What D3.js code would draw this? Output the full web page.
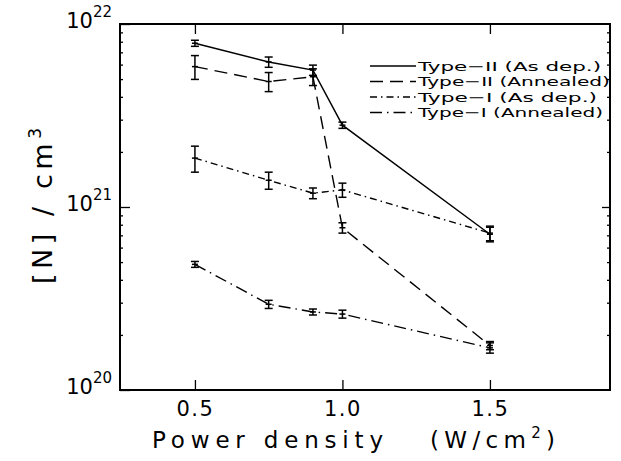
<!DOCTYPE html>
<html>
<head>
<meta charset="utf-8">
<script src="https://cdn.jsdelivr.net/npm/d3@7"></script>
<style>
  body { margin: 0; background: #fff; }
  svg { display: block; font-family: "DejaVu Sans", sans-serif; }
</style>
</head>
<body>
<svg id="chart"></svg>
<script>
// Chart data
const powers = [0.5, 0.75, 0.9, 1.0, 1.5];
const xTicks = [0.5, 1.0, 1.5];
const yTicks = [1e20, 1e21, 1e22];

const seriesNames = [
  "Type\u2212II (As dep.)",
  "Type\u2212II (Annealed)",
  "Type\u2212I (As dep.)",
  "Type\u2212I (Annealed)",
];
const type2AsDep = [7.85e21, 6.2e21, 5.6e21, 2.8e21, 7.1e20];
const type2AsDepErr = [0.3e21, 0.4e21, 0.36e21, 0.11e21, 0.65e20];
const type2Annealed = [5.85e21, 4.85e21, 5.15e21, 7.7e20, 1.75e20];
const type2AnnealedErr = [0.87e21, 0.58e21, 0.54e21, 0.5e20, 0.09e20];
const type1AsDep = [1.85e21, 1.4e21, 1.19e21, 1.24e21, 7.2e20];
const type1AsDepErr = [0.3e21, 0.15e21, 0.08e21, 0.11e21, 0.66e20];
const type1Annealed = [4.86e20, 2.94e20, 2.67e20, 2.6e20, 1.7e20];
const type1AnnealedErr = [0.18e20, 0.15e20, 0.1e20, 0.13e20, 0.11e20];

const dashes = ["none", "13,7", "7,4,1.5,4", "12,5,1.5,5"];
const legendWidths = [183, 192, 179, 185];

const series = [
  { name: seriesNames[0], values: type2AsDep, errs: type2AsDepErr, dash: dashes[0] },
  { name: seriesNames[1], values: type2Annealed, errs: type2AnnealedErr, dash: dashes[1] },
  { name: seriesNames[2], values: type1AsDep, errs: type1AsDepErr, dash: dashes[2] },
  { name: seriesNames[3], values: type1Annealed, errs: type1AnnealedErr, dash: dashes[3] },
];

// Chart configuration
const margin = { top: 24, right: 11, bottom: 71, left: 120 };
const width = 621 - margin.left - margin.right;
const height = 461 - margin.top - margin.bottom;

const svg = d3.select("#chart").attr("width", 621).attr("height", 461);
const g = svg.append("g").attr("transform", `translate(${margin.left},${margin.top})`);

const x = d3.scaleLinear().domain([0.246, 1.907]).range([0, width]);
const y = d3.scaleLog().domain([1e20, 1e22]).range([height, 0]);

// minor ticks on the log axis (left and right)
const minor = [];
for (let e = 20; e < 22; e++) for (let m = 2; m <= 9; m++) minor.push(m * Math.pow(10, e));

g.append("g")
  .call(d3.axisLeft(y).tickValues(minor).tickSize(-3).tickFormat(""))
  .call((s) => s.select(".domain").remove());
g.append("g")
  .attr("transform", `translate(${width},0)`)
  .call(d3.axisRight(y).tickValues(minor).tickSize(-3).tickFormat(""))
  .call((s) => s.select(".domain").remove());

// x axes
const xAxis = g.append("g")
  .attr("transform", `translate(0,${height})`)
  .call(d3.axisBottom(x).tickValues(xTicks).tickSize(-10).tickPadding(11).tickFormat(d3.format(".1f")));
xAxis.selectAll("text").attr("font-size", 21).attr("letter-spacing", 1.5).attr("fill", "#000").attr("font-family", "DejaVu Sans");
xAxis.select(".domain").remove();

g.append("g")
  .call(d3.axisTop(x).tickValues(xTicks).tickSize(-10).tickFormat(""))
  .call((s) => s.select(".domain").remove());

// y axes
const yAxis = g.append("g")
  .call(d3.axisLeft(y).tickValues(yTicks).tickSize(-10).tickPadding(8).tickFormat(""));
yAxis.select(".domain").remove();
yAxis.selectAll(".tick text")
  .attr("font-family", "DejaVu Sans")
  .attr("fill", "#000")
  .attr("dy", "0.35em")
  .each(function (d) {
    const t = d3.select(this);
    t.append("tspan").attr("font-size", 21).text("10");
    t.append("tspan").attr("font-size", 15).attr("dy", -11).text(Math.round(Math.log10(d)));
  });

g.append("g")
  .attr("transform", `translate(${width},0)`)
  .call(d3.axisRight(y).tickValues([1e21]).tickSize(-8).tickFormat(""))
  .call((s) => s.select(".domain").remove());

g.selectAll(".tick line").attr("stroke", "#000").attr("stroke-width", 1.3);

// frame
g.append("rect")
  .attr("width", width)
  .attr("height", height)
  .attr("fill", "none")
  .attr("stroke", "#000")
  .attr("stroke-width", 2);

// lines
const line = d3.line()
  .x((d, i) => x(powers[i]))
  .y((d) => y(d));

g.selectAll(".series")
  .data(series)
  .enter()
  .append("path")
  .attr("class", "series")
  .attr("d", (s) => line(s.values))
  .attr("fill", "none")
  .attr("stroke", "#000")
  .attr("stroke-width", 1.4)
  .attr("stroke-dasharray", (s) => s.dash);

// error bars
const pts = series.flatMap((s) =>
  s.values.map((v, i) => ({ x: powers[i], v: v, e: s.errs[i] }))
);
const eb = g.selectAll(".err").data(pts).enter().append("g").attr("class", "err")
  .attr("stroke", "#000").attr("stroke-width", 1.5);
eb.append("line")
  .attr("x1", (d) => x(d.x)).attr("x2", (d) => x(d.x))
  .attr("y1", (d) => y(d.v + d.e)).attr("y2", (d) => y(d.v - d.e));
eb.append("line")
  .attr("x1", (d) => x(d.x) - 4).attr("x2", (d) => x(d.x) + 4)
  .attr("y1", (d) => y(d.v + d.e)).attr("y2", (d) => y(d.v + d.e));
eb.append("line")
  .attr("x1", (d) => x(d.x) - 4).attr("x2", (d) => x(d.x) + 4)
  .attr("y1", (d) => y(d.v - d.e)).attr("y2", (d) => y(d.v - d.e));
eb.append("line")
  .attr("x1", (d) => x(d.x) - 3).attr("x2", (d) => x(d.x) + 3)
  .attr("y1", (d) => y(d.v)).attr("y2", (d) => y(d.v));

// legend
const legend = g.append("g").attr("transform", "translate(250,42)");
const rows = legend.selectAll(".row").data(series).enter().append("g")
  .attr("class", "row")
  .attr("transform", (d, i) => `translate(0,${i * 15.5})`);
rows.append("line")
  .attr("x1", 0).attr("x2", 46)
  .attr("stroke", "#000").attr("stroke-width", 1.4)
  .attr("stroke-dasharray", (d) => d.dash);
rows.append("text")
  .attr("x", 48)
  .attr("dy", "0.36em")
  .attr("font-size", 13)
  .attr("textLength", (d, i) => legendWidths[i])
  .attr("lengthAdjust", "spacingAndGlyphs")
  .text((d) => d.name);

// axis titles
svg.append("text")
  .attr("x", 152).attr("y", 448)
  .attr("font-size", 23)
  .attr("textLength", 231).attr("lengthAdjust", "spacing")
  .text("Power density");
const xt = svg.append("text")
  .attr("x", 430).attr("y", 448)
  .attr("font-size", 23)
  .attr("textLength", 125).attr("lengthAdjust", "spacing");
xt.append("tspan").text("(W/cm");
xt.append("tspan").attr("font-size", 15).attr("dy", -10).text("2");
xt.append("tspan").attr("dy", 10).text(")");

const yt = svg.append("text")
  .attr("transform", "translate(52,206) rotate(-90)")
  .attr("text-anchor", "middle")
  .attr("font-size", 27)
  .attr("textLength", 156).attr("lengthAdjust", "spacing");
yt.append("tspan").text("[N] / cm");
yt.append("tspan").attr("font-size", 17).attr("dy", -11).text("3");
</script>
</body>
</html>
